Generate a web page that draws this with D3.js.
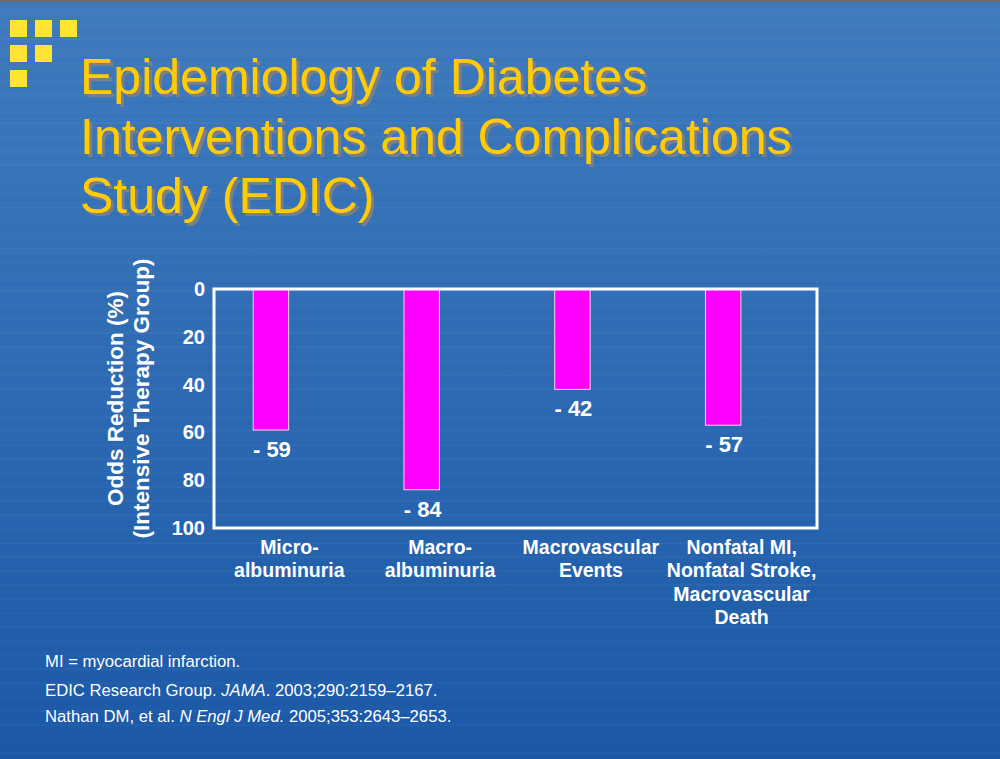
<!DOCTYPE html>
<html>
<head>
<meta charset="utf-8">
<script src="https://cdn.jsdelivr.net/npm/d3@7"></script>
<style>
  html, body { margin: 0; padding: 0; background: #2a68b2; }
  svg { display: block; font-family: Arial, "Liberation Sans", sans-serif; }
</style>
</head>
<body>
<div id="chart"></div>
<script>
// data
const categories = ["Micro-albuminuria", "Macro-albuminuria", "Macrovascular Events", "Nonfatal MI"];
const categoryLines = [
  ["Micro-", "albuminuria"],
  ["Macro-", "albuminuria"],
  ["Macrovascular", "Events"],
  ["Nonfatal MI,", "Nonfatal Stroke,", "Macrovascular", "Death"]
];
const reductions = [59, 84, 42, 57];
const yTicks = [0, 20, 40, 60, 80, 100];
const titleLines = ["Epidemiology of Diabetes", "Interventions and Complications", "Study (EDIC)"];
const axisTitle = ["Odds Reduction (%)", "(Intensive Therapy Group)"];

const width = 1000, height = 759;
const svg = d3.select("#chart").append("svg").attr("width", width).attr("height", height);

// background
const defs = svg.append("defs");
const grad = defs.append("linearGradient").attr("id", "bg").attr("x1", 0).attr("y1", 0).attr("x2", 0).attr("y2", 1);
grad.append("stop").attr("offset", "0%").attr("stop-color", "#3f7bbd");
grad.append("stop").attr("offset", "55%").attr("stop-color", "#2c69b2");
grad.append("stop").attr("offset", "100%").attr("stop-color", "#1b58a7");
svg.append("rect").attr("width", width).attr("height", height).attr("fill", "url(#bg)");
svg.append("rect").attr("width", width).attr("height", 2).attr("fill", "#6b6b6b");

// title drop shadow
const shadow = defs.append("filter").attr("id", "shadow")
  .attr("x", "-5%").attr("y", "-20%").attr("width", "115%").attr("height", "150%");
shadow.append("feDropShadow").attr("dx", 3).attr("dy", 3).attr("stdDeviation", 0)
  .attr("flood-color", "#7d7f83").attr("flood-opacity", 1);

// faint horizontal streaks
const streaks = d3.range(4, height, 7);
svg.append("g").selectAll("line").data(streaks).enter().append("line")
  .attr("x1", 0).attr("x2", width)
  .attr("y1", d => d).attr("y2", d => d)
  .attr("stroke", (d, i) => i % 2 ? "#ffffff" : "#0a3f8a")
  .attr("stroke-opacity", (d, i) => 0.03 + (i % 3) * 0.01)
  .attr("stroke-width", 1.5);

// yellow bullet squares
const squares = [[0, 0], [1, 0], [2, 0], [0, 1], [1, 1], [0, 2]];
svg.append("g").selectAll("rect").data(squares).enter().append("rect")
  .attr("x", d => 10 + d[0] * 25).attr("y", d => 20 + d[1] * 25)
  .attr("width", 17).attr("height", 17)
  .attr("fill", "#ffe433");

// title
svg.append("g").attr("filter", "url(#shadow)").selectAll("text").data(titleLines).enter().append("text")
  .attr("x", 80).attr("y", (d, i) => 94 + i * 59.5)
  .attr("font-size", 50).attr("fill", "#ffcc00")
  .text(d => d);

// plot area
const box = { left: 214, top: 289, right: 817, bottom: 528 };
const x = d3.scaleBand().domain(categories).range([box.left, box.right]);
const y = d3.scaleLinear().domain([0, 100]).range([box.top, box.bottom]);

const barX = d => x(d) + x.step() * 0.26;
const barW = x.step() * 0.235;

svg.append("g").selectAll("rect").data(categories).enter().append("rect")
  .attr("x", d => barX(d))
  .attr("y", y(0))
  .attr("width", barW)
  .attr("height", (d, i) => y(reductions[i]) - y(0))
  .attr("fill", "#ff00ff")
  .attr("stroke", "#f0d8f0")
  .attr("stroke-width", 1);

svg.append("rect")
  .attr("x", box.left).attr("y", box.top)
  .attr("width", box.right - box.left).attr("height", box.bottom - box.top)
  .attr("fill", "none").attr("stroke", "#ffffff").attr("stroke-width", 3);

// value labels
svg.append("g").selectAll("text").data(categories).enter().append("text")
  .attr("x", d => barX(d) + barW / 2 + 1)
  .attr("y", (d, i) => y(reductions[i]) + 27)
  .attr("text-anchor", "middle")
  .attr("font-size", 22).attr("font-weight", "bold").attr("fill", "#ffffff")
  .text((d, i) => "- " + reductions[i]);

// y axis
const yAxis = svg.append("g").attr("transform", `translate(${box.left - 9},0)`)
  .call(d3.axisLeft(y).tickValues(yTicks).tickSize(0).tickPadding(0));
yAxis.select(".domain").remove();
yAxis.selectAll("text")
  .attr("font-family", "Arial, 'Liberation Sans', sans-serif")
  .attr("font-size", 20).attr("font-weight", "bold").attr("fill", "#ffffff");

// y axis title
const yt = svg.append("text")
  .attr("transform", `translate(0,${(box.top + box.bottom) / 2 - 10}) rotate(-90)`)
  .attr("text-anchor", "middle")
  .attr("font-size", 22.5).attr("font-weight", "bold").attr("fill", "#ffffff");
axisTitle.forEach((t, i) => {
  yt.append("tspan").attr("x", 0).attr("y", 123 + i * 26).text(t);
});

// category labels
const cats = svg.append("g").selectAll("text").data(categories).enter().append("text")
  .attr("text-anchor", "middle")
  .attr("font-size", 19.5).attr("font-weight", "bold").attr("fill", "#ffffff");
cats.each(function (d, i) {
  const sel = d3.select(this);
  categoryLines[i].forEach((line, j) => {
    sel.append("tspan").attr("x", x(d) + x.bandwidth() / 2).attr("y", 554 + j * 23.3).text(line);
  });
});

// footnotes
const notes = svg.append("g").attr("font-size", 16.7).attr("fill", "#ffffff");
notes.append("text").attr("x", 45).attr("y", 667).text("MI = myocardial infarction.");
const n2 = notes.append("text").attr("x", 45).attr("y", 696);
n2.append("tspan").text("EDIC Research Group. ");
n2.append("tspan").attr("font-style", "italic").text("JAMA");
n2.append("tspan").text(". 2003;290:2159\u20132167.");
const n3 = notes.append("text").attr("x", 45).attr("y", 722);
n3.append("tspan").text("Nathan DM, et al. ");
n3.append("tspan").attr("font-style", "italic").text("N Engl J Med.");
n3.append("tspan").text(" 2005;353:2643\u20132653.");
</script>
</body>
</html>
